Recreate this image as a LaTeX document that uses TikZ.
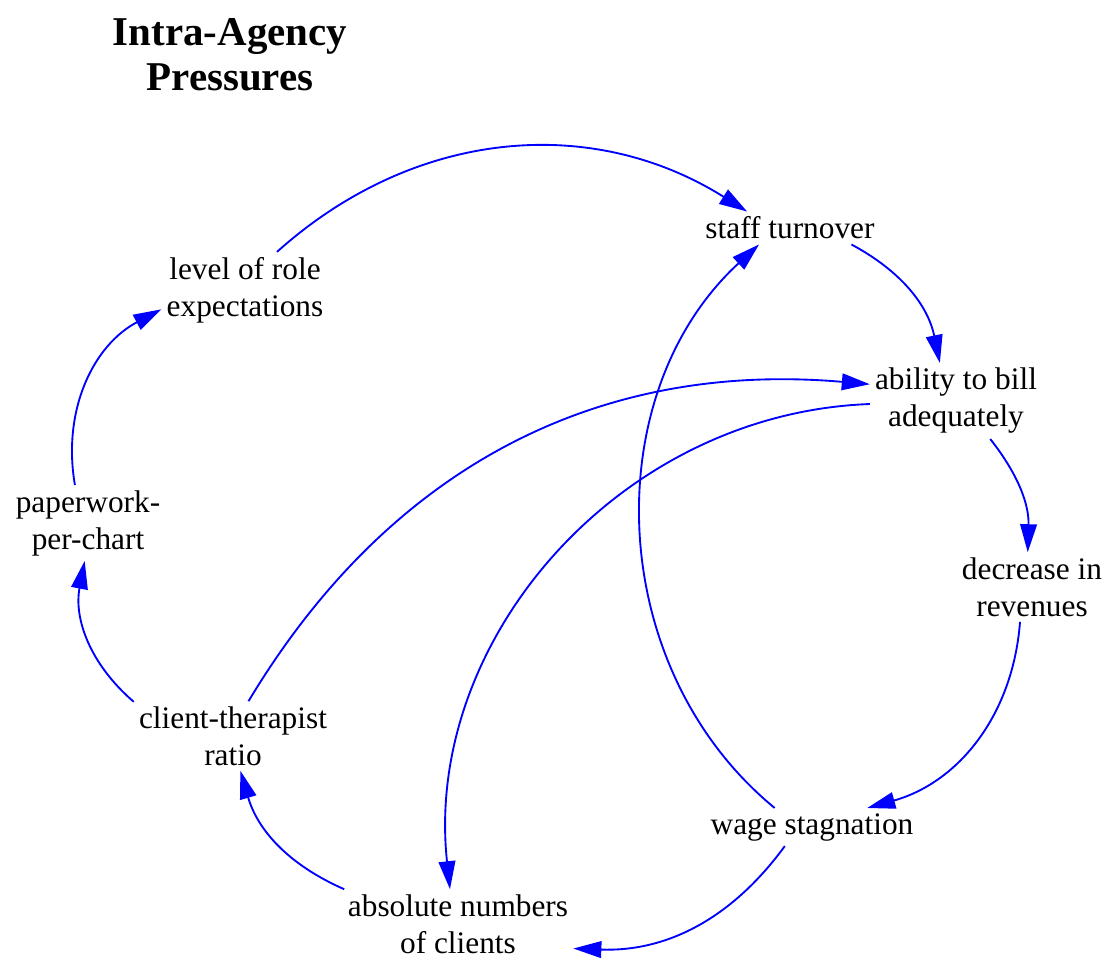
\documentclass[tikz,border=0pt]{standalone}
\usepackage{fontspec}
\setmainfont{LiberationSerif-Regular.ttf}[BoldFont=LiberationSerif-Bold.ttf]
\usetikzlibrary{arrows.meta}
\begin{document}
\begin{tikzpicture}[x=0.75pt,y=0.75pt,
  lbl/.style={align=center, inner sep=3.75pt, font=\rmfamily\fontsize{23.5}{27.75}\selectfont},
  ttl/.style={align=center, inner sep=0pt, font=\rmfamily\bfseries\fontsize{30.7}{33.75}\selectfont},
  link/.style={draw=blue, line width=1.4pt, -{Triangle[length=21pt,width=12.5pt]}}]
\useasboundingbox (0,0) rectangle (1119,-960);
\node[ttl] (title) at (230,-55) {Intra-Agency\\Pressures};
\node[lbl] (st)  at (790,-228) {staff turnover};
\node[lbl] (lvl) at (245,-290) {level of role\\expectations};
\node[lbl] (ab)  at (956,-401) {ability to bill\\adequately};
\node[lbl] (pp)  at (88,-523)  {paperwork-\\per-chart};
\node[lbl] (dec) at (1032,-587) {decrease in\\revenues};
\node[lbl] (ct)  at (233,-736) {client-therapist\\ratio};
\node[lbl] (ws)  at (812,-827) {wage stagnation};
\node[lbl] (abs) at (458,-924) {absolute numbers\\of clients};
\draw[link] (lvl.50) to[bend left=37] (st.159);
\draw[link] (ws.153) to[bend left=49] (st.208);
\draw[link] (st.-15) to[bend left=25] (ab.113);
\draw[link] (ct.66) to[bend left=32] (ab.169);
\draw[link] (ab.182) to[bend right=47] (abs.103);
\draw[link] (ab.-48) to[bend left=20] (dec.97);
\draw[link] (dec.251) to[bend left=35] (ws.19);
\draw[link] (ws.215) to[bend left=28] (abs.-12);
\draw[link] (abs.163) to[bend left=25] (ct.-78);
\draw[link] (ct.161) to[bend left=30] (pp.265);
\draw[link] (pp.109) to[bend left=36] (lvl.193);
\end{tikzpicture}
\end{document}
